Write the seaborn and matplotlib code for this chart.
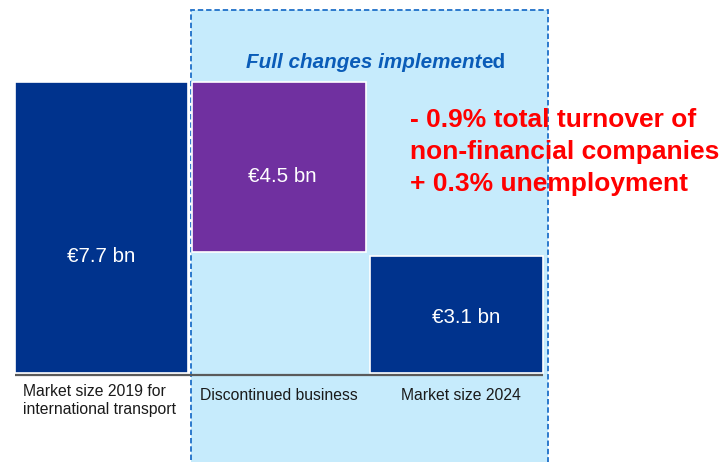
import matplotlib
matplotlib.use("Agg")
import matplotlib.pyplot as plt
from matplotlib.patches import Rectangle
import seaborn as sns
import pandas as pd

# Waterfall data (EUR bn)
categories = ["Market size 2019 for\ninternational transport",
              "Discontinued business",
              "Market size 2024"]
values = [7.7, 4.5, 3.1]
kinds = ["total", "decrease", "total"]
value_labels = ["€7.7 bn", "€4.5 bn", "€3.1 bn"]
bar_colors = ["#00338D", "#7030A0", "#00338D"]

box_title = "Full changes implement"
box_title_tail = "ed"
impact_lines = ["- 0.9% total turnover of",
                "non-financial companies",
                "+ 0.3% unemployment"]

sns.set_theme(style="white")
plt.rcParams["font.family"] = ["Liberation Sans", "DejaVu Sans"]

fig = plt.figure(figsize=(7.22, 4.62), dpi=100)
ax = fig.add_axes([0, 0, 1, 1])

# shaded scenario box behind the change and result bars
box = Rectangle((0.504, -2.6), 2.009, 9.606 + 2.6, facecolor="#C6EBFC",
                edgecolor="#1E6FC8", linewidth=1.3, linestyle=(0, (3, 1.6)),
                zorder=0)
ax.add_patch(box)

df = pd.DataFrame({"cat": categories, "val": values})
sns.barplot(data=df, x="cat", y="val", hue="cat", order=categories,
            palette=bar_colors, saturation=1, width=0.975, edgecolor="white",
            linewidth=1.2, legend=False, ax=ax, zorder=2)
ax.set_xlim(-0.5718, 3.4952)
ax.set_ylim(-2.355, 9.87)
ax.axis("off")

# float decreases down from the running total
bars = [p for p in ax.patches if p is not box]
running = 0.0
for patch, val, kind in zip(bars, values, kinds):
    if kind == "total":
        running = val
    else:
        patch.set_y(running - val)
        running -= val

# baseline
ax.plot([-0.4875, 2.487], [-0.05, -0.05], color="#5A5A5A", lw=1.6, zorder=3,
        solid_capstyle="butt")

# value labels inside the bars
label_pos = [(0.0, 3.07), (1.017, 5.21), (2.054, 1.46)]
for (lx, ly), txt in zip(label_pos, value_labels):
    ax.text(lx, ly, txt, color="white", fontsize=14.8, ha="center",
            va="center", zorder=4)

# category labels under the baseline
ax.text(-0.44, -0.28, categories[0], fontsize=11.3, color="#1A1A1A",
        ha="left", va="top", linespacing=1.28)
ax.text(0.555, -0.4, categories[1], fontsize=11.3, color="#1A1A1A",
        ha="left", va="top")
ax.text(1.687, -0.4, categories[2], fontsize=11.3, color="#1A1A1A",
        ha="left", va="top")

# box heading
t1 = ax.text(0.814, 8.22, box_title, fontsize=14.9, color="#0A5CB8",
             fontweight="bold", fontstyle="italic", ha="left", va="center")
ax.annotate(box_title_tail, xy=(1, 0), xycoords=t1, fontsize=14.9,
            color="#0A5CB8", fontweight="bold", ha="left", va="bottom")

# impact annotation
ax.text(1.738, 7.01, "\n".join(impact_lines), fontsize=19, color="#FF0000",
        fontweight="bold", ha="left", va="top", linespacing=1.43, zorder=5)

fig.savefig("out.png", dpi=100)
